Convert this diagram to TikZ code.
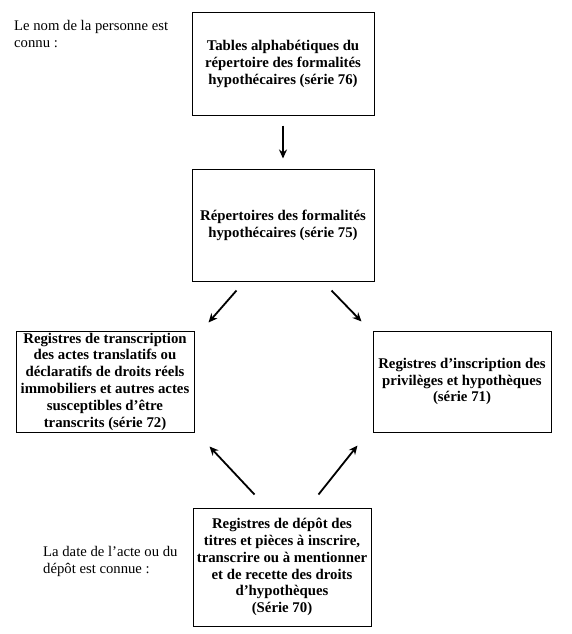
\documentclass[tikz,border=0pt]{standalone}
\usepackage{fontspec}
\setmainfont{Liberation Serif}
\usetikzlibrary{arrows.meta}

\begin{document}
\begin{tikzpicture}[x=1pt, y=-1pt,
  box/.style={draw, line width=1pt, align=center, inner sep=0pt,
              font=\fontsize{14.8}{16.8}\selectfont\bfseries},
  note/.style={anchor=north west, align=left, inner sep=0pt,
               font=\fontsize{14.7}{17}\selectfont},
  fleche/.style={-{Stealth[length=9pt, width=8pt]}, line width=1.8pt}]

\useasboundingbox (0,0) rectangle (571,634);

\node[note](nom) at (14,20) {Le nom de la personne est\\connu :};
\node[note](date) at (43,546) {La date de l’acte ou du\\dépôt est connue :};

\node[box, minimum width=182pt, minimum height=102pt](76) at (283,64)
  {Tables alphabétiques du\\répertoire des formalités\\hypothécaires (série 76)};
\node[box, minimum width=182pt, minimum height=112pt](75) at (283,225)
  {Répertoires des formalités\\hypothécaires (série 75)};
\node[box, minimum width=178pt, minimum height=101pt](72) at (105,381.5)
  {Registres de transcription\\des actes translatifs ou\\déclaratifs de droits réels\\immobiliers et autres actes\\susceptibles d’être\\transcrits (série 72)};
\node[box, minimum width=178pt, minimum height=101pt](71) at (462,381.5)
  {Registres d’inscription des\\privilèges et hypothèques\\(série 71)};
\node[box, minimum width=178pt, minimum height=118pt](70) at (282,567)
  {Registres de dépôt des\\titres et pièces à inscrire,\\transcrire ou à mentionner\\et de recette des droits\\d’hypothèques\\(Série 70)};

\draw[fleche, shorten <=10pt, shorten >=10pt] (76.south) -- (75.north);
\draw[fleche] ([shift={(45,9)}]75.south west) -- ([shift={(14,-8)}]72.north east);
\draw[fleche] ([shift={(-43,9)}]75.south east) -- ([shift={(-11,-9)}]71.north west);
\draw[fleche] ([shift={(62,-13)}]70.north west) -- ([shift={(15,14)}]72.south east);
\draw[fleche] ([shift={(-53,-13)}]70.north east) -- ([shift={(-15,13)}]71.south west);

\end{tikzpicture}
\end{document}
